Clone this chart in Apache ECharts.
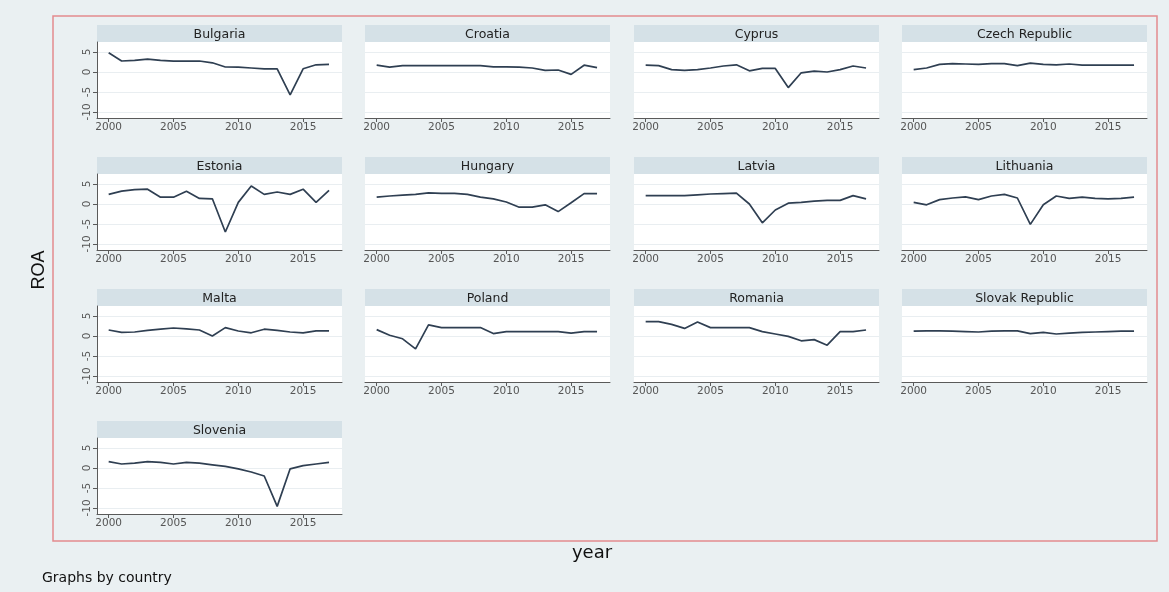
<!DOCTYPE html>
<html><head><meta charset="utf-8">
<script src="https://cdn.jsdelivr.net/npm/echarts@6/dist/echarts.min.js"></script>
<style>html,body{margin:0;padding:0;background:#eaf0f2;} #c{width:1169px;height:592px;}</style>
</head><body><div id="c"></div>
<script>
const years = [2000,2001,2002,2003,2004,2005,2006,2007,2008,2009,2010,2011,2012,2013,2014,2015,2016,2017];
const countries = ['Bulgaria','Croatia','Cyprus','Czech Republic','Estonia','Hungary','Latvia','Lithuania','Malta','Poland','Romania','Slovak Republic','Slovenia'];
const bulgaria = [4.8,2.75,2.9,3.2,2.9,2.7,2.7,2.75,2.3,1.25,1.2,1.0,0.8,0.8,-5.7,0.8,1.8,1.9];
const croatia  = [1.7,1.2,1.6,1.6,1.6,1.6,1.6,1.6,1.6,1.3,1.3,1.2,1.0,0.4,0.5,-0.6,1.7,1.1];
const cyprus   = [1.7,1.6,0.6,0.4,0.6,1.0,1.5,1.8,0.3,0.9,0.9,-3.9,-0.2,0.2,0.0,0.6,1.5,1.0];
const czech    = [0.6,1.0,1.9,2.1,2.0,1.9,2.1,2.1,1.6,2.2,1.9,1.8,2.0,1.7,1.7,1.7,1.7,1.7];
const estonia  = [2.4,3.2,3.6,3.7,1.7,1.7,3.2,1.4,1.3,-7.0,0.4,4.5,2.4,3.0,2.4,3.7,0.4,3.4];
const hungary  = [1.7,2.0,2.2,2.4,2.8,2.65,2.65,2.4,1.7,1.3,0.5,-0.8,-0.8,-0.2,-1.9,0.3,2.6,2.6];
const latvia   = [2.1,2.1,2.1,2.1,2.3,2.5,2.6,2.7,0.0,-4.7,-1.5,0.2,0.4,0.7,0.9,0.9,2.1,1.3];
const lithuania= [0.4,-0.2,1.1,1.5,1.8,1.1,2.0,2.4,1.5,-5.1,-0.2,2.0,1.4,1.7,1.4,1.3,1.4,1.7];
const malta    = [1.5,0.9,1.0,1.4,1.7,2.0,1.8,1.5,0.0,2.1,1.25,0.8,1.7,1.4,1.0,0.8,1.3,1.3];
const poland   = [1.6,0.2,-0.7,-3.2,2.8,2.1,2.1,2.1,2.1,0.6,1.1,1.1,1.1,1.1,1.1,0.7,1.1,1.1];
const romania  = [3.6,3.6,2.9,1.9,3.5,2.1,2.1,2.1,2.1,1.1,0.5,-0.1,-1.2,-0.9,-2.3,1.1,1.1,1.5];
const slovak   = [1.2,1.3,1.3,1.2,1.1,1.0,1.2,1.3,1.3,0.6,0.9,0.5,0.7,0.9,1.0,1.1,1.2,1.2];
const slovenia = [1.6,1.0,1.2,1.6,1.4,1.0,1.4,1.2,0.8,0.4,-0.2,-1.0,-2.0,-9.6,-0.2,0.6,1.0,1.4];
const yTicks = [-10,-5,0,5];
const xTicks = [2000,2005,2010,2015];
const yTitle = 'ROA';
const xTitle = 'year';
const note = 'Graphs by country';

const values = [bulgaria,croatia,cyprus,czech,estonia,hungary,latvia,lithuania,malta,poland,romania,slovak,slovenia];

const colLeft = [97, 365, 634, 902];
const rowTop = [25, 157, 289, 421];
const panelW = 245, stripH = 17, plotH = 76;
const FONT = 'DejaVu Sans, Verdana, sans-serif';
const FONT2 = 'Liberation Sans, Arial, sans-serif';

const chart = echarts.init(document.getElementById('c'));
const grids=[], xAxes=[], yAxes=[], series=[], graphics=[];

graphics.push({type:'rect', z:-10, shape:{x:53, y:16, width:1104, height:525}, style:{fill:'none', stroke:'#e38b8f', lineWidth:1.5}});

countries.forEach((name,i)=>{
  const r = Math.floor(i/4), c = i%4;
  const left = colLeft[c], top = rowTop[r] + stripH;
  grids.push({left:left, top:top, width:panelW, height:plotH, show:true, backgroundColor:'#ffffff', borderWidth:0});
  xAxes.push({type:'value', gridIndex:i, min:1999.1, max:2018,
    axisLine:{show:true, onZero:false, lineStyle:{color:'#5a5a5a', width:1}},
    axisTick:{show:true, customValues:xTicks, length:4, lineStyle:{color:'#5a5a5a'}},
    axisLabel:{customValues:xTicks, color:'#555', fontSize:10.5, fontFamily:FONT, margin:4, formatter:v=>String(Math.round(v))},
    splitLine:{show:false}});
  yAxes.push({type:'value', gridIndex:i, min:-11.5, max:7.5,
    axisLine:{show:c===0, lineStyle:{color:'#5a5a5a', width:1}},
    axisTick:{show:c===0, customValues:yTicks, length:4, lineStyle:{color:'#5a5a5a'}},
    axisLabel:{show:c===0, customValues:yTicks, rotate:90, color:'#555', fontSize:10.5, fontFamily:FONT, margin:4},
    splitLine:{show:true, lineStyle:{color:'#e9eef1', width:1}}});
  series.push({type:'line', xAxisIndex:i, yAxisIndex:i, silent:true, symbol:'none',
    data: years.map((y,k)=>[y, values[i][k]]),
    lineStyle:{color:'#2f3f52', width:1.7}});
  graphics.push({type:'rect', shape:{x:left, y:rowTop[r], width:panelW, height:stripH}, style:{fill:'#d5e1e7'}});
  graphics.push({type:'text', x:left+panelW/2, y:rowTop[r]+stripH/2+1, style:{text:name, fill:'#222', font:'12.5px '+FONT, textAlign:'center', textVerticalAlign:'middle'}});
});

graphics.push({type:'text', x:39, y:270, rotation:Math.PI/2, style:{text:yTitle, fill:'#111', font:'18px '+FONT2, textAlign:'center', textVerticalAlign:'middle'}});
graphics.push({type:'text', x:592, y:553, style:{text:xTitle, fill:'#111', font:'18px '+FONT, textAlign:'center', textVerticalAlign:'middle'}});
graphics.push({type:'text', x:42, y:578, style:{text:note, fill:'#111', font:'14px '+FONT, textAlign:'left', textVerticalAlign:'middle'}});

chart.setOption({
  backgroundColor:'#eaf0f2',
  animation:false,
  grid:grids, xAxis:xAxes, yAxis:yAxes, series:series,
  graphic:graphics
});
</script></body></html>
